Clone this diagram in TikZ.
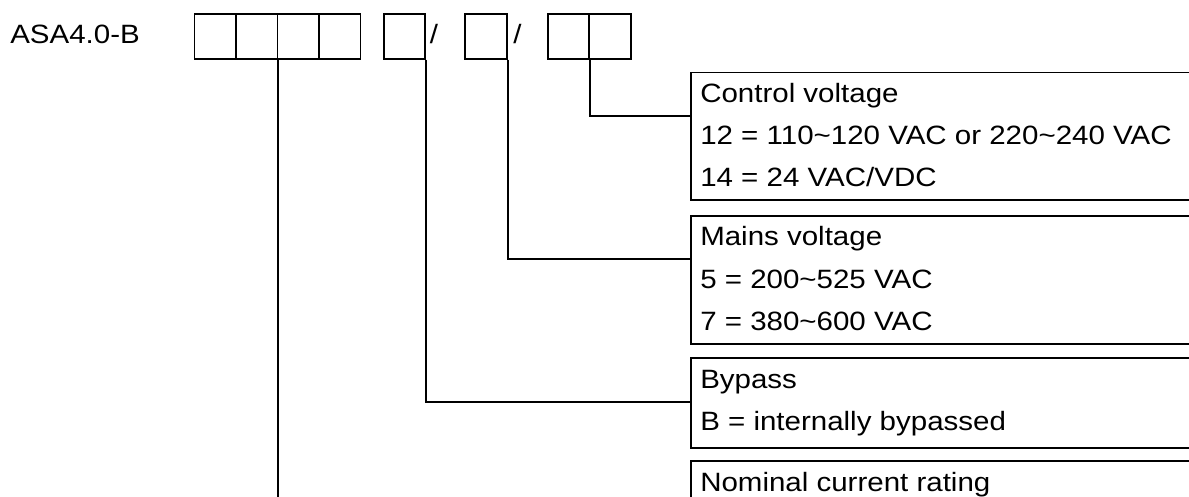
\documentclass[tikz,border=0pt]{standalone}
\usepackage{fontspec}
\setmainfont{Liberation Sans}[FakeStretch=1.113]
\usetikzlibrary{calc}
\newcommand{\tld}{\textasciitilde}
\begin{document}
\begin{tikzpicture}[x=1pt,y=-1pt,line width=1.9pt,
  txt/.style={inner sep=0pt,anchor=base west,font=\fontsize{26.5}{30}\selectfont},
  slash/.style={inner sep=0pt,anchor=base,font=\fontsize{26.5}{30}\selectfont},
  cell/.style={draw,minimum width=41.5pt,minimum height=45pt,inner sep=0pt,anchor=north west},
  lab/.style={draw,minimum width=560pt,inner sep=0pt,anchor=north west},
  conn/.style={line width=1.9pt}]
\clip (0,0) rectangle (1189,497);
% title
\node[txt] (title) at (9.3,43.3) {ASA4.0-B};
% code cells
\node[cell] (b1) at (193.5,12.7) {};
\node[cell] (b2) at (235,12.7) {};
\node[cell] (b3) at (276.5,12.7) {};
\node[cell] (b4) at (318,12.7) {};
\node[cell] (b5) at (382.7,12.7) {};
\node[slash] (s1) at (434,43.3) {/};
\node[cell] (b6) at (464.3,12.7) {};
\node[slash] (s2) at (517.4,43.3) {/};
\node[cell] (b7) at (546.7,12.7) {};
\node[cell] (b8) at (588.3,12.7) {};
% label boxes
\node[lab,minimum height=127.7pt] (ctl) at (690,71.6) {};
\node[lab,minimum height=127.7pt] (mns) at (690,215) {};
\node[lab,minimum height=89.4pt] (byp) at (690,357.3) {};
\node[lab,minimum height=100pt] (nom) at (690,460) {};
% texts
\node[txt] (ctl1) at (699.3,102.6) {Control voltage};
\node[txt] (ctl2) at (699.3,144.6) {12 = 110\tld120 VAC or 220\tld240 VAC};
\node[txt] (ctl3) at (699.3,186.6) {14 = 24 VAC/VDC};
\node[txt] (mns1) at (699.3,246) {Mains voltage};
\node[txt] (mns2) at (699.3,288) {5 = 200\tld525 VAC};
\node[txt] (mns3) at (699.3,330) {7 = 380\tld600 VAC};
\node[txt] (byp1) at (699.3,388.3) {Bypass};
\node[txt] (byp2) at (699.3,430.3) {B = internally bypassed};
\node[txt] (nom1) at (699.3,491) {Nominal current rating};
% connectors
\coordinate (bottom) at (276.5,510);
\draw[conn] (b2.south east) -- (b2.south east |- bottom);
\draw[conn] (b5.south east) |- ($(byp.north west)+(0,44.7)$);
\draw[conn] (b6.south east) |- ($(mns.north west)+(0,43.7)$);
\draw[conn] (b7.south east) |- ($(ctl.north west)+(0,44.4)$);
\end{tikzpicture}
\end{document}
